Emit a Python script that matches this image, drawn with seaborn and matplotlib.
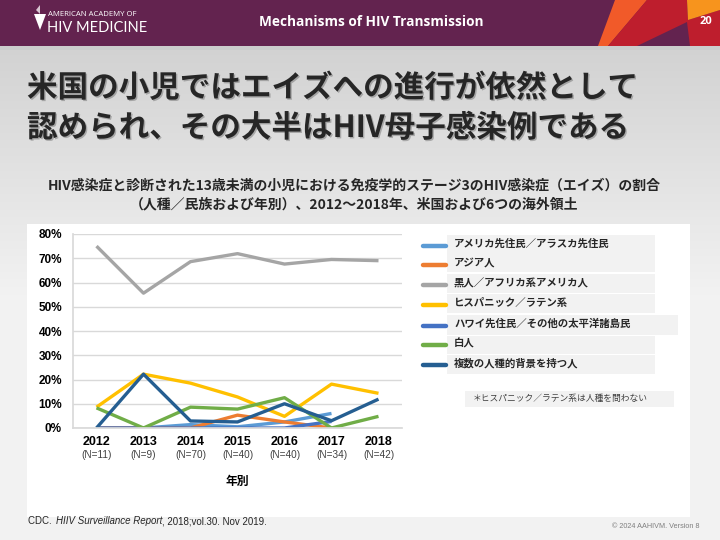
import numpy as np
import pandas as pd
import matplotlib
matplotlib.use("Agg")
import matplotlib.pyplot as plt
import seaborn as sns
from matplotlib.patches import Rectangle, Polygon
from matplotlib.lines import Line2D
import matplotlib.transforms as mtransforms
import matplotlib.patheffects as pe

# ---------------- data ----------------
years = ["2012", "2013", "2014", "2015", "2016", "2017", "2018"]
n_counts = [11, 9, 70, 40, 40, 34, 42]
groups = [
    "アメリカ先住民／アラスカ先住民",
    "アジア人",
    "黒人／アフリカ系アメリカ人",
    "ヒスパニック／ラテン系",
    "ハワイ先住民／その他の太平洋諸島民",
    "白人",
    "複数の人種的背景を持つ人",
]
am_indian = [0.0, 0.0, 1.4, 0.5, 2.5, 6.0, np.nan]
asian = [0.0, 0.0, 0.0, 5.3, 2.5, 0.0, np.nan]
black = [75.0, 55.6, 68.6, 71.9, 67.6, 69.5, 69.0]
hispanic = [8.6, 22.2, 18.5, 12.8, 4.8, 18.1, 14.3]
hawaiian = [0.0, 0.0, 0.0, 0.0, 0.0, 2.7, np.nan]
white = [8.3, 0.0, 8.6, 7.8, 12.5, 0.0, 4.8]
multiple = [0.0, 22.2, 2.9, 2.5, 10.0, 3.0, 11.9]
series = [am_indian, asian, black, hispanic, hawaiian, white, multiple]
colors = ["#5b9bd5", "#ed7d31", "#a5a5a5", "#ffc000", "#4472c4", "#70ad47", "#255e91"]
y_ticks = [0, 10, 20, 30, 40, 50, 60, 70, 80]

title_lines = ["米国の小児ではエイズへの進行が依然として", "認められ、その大半はHIV母子感染例である"]
subtitle_lines = [
    "HIV感染症と診断された13歳未満の小児における免疫学的ステージ3のHIV感染症（エイズ）の割合",
    "（人種／民族および年別）、2012～2018年、米国および6つの海外領土",
]
footnote = "＊ヒスパニック／ラテン系は人種を問わない"
xlabel = "年別"

rows = []
for g, vals in zip(groups, series):
    for i, v in enumerate(vals):
        rows.append({"group": g, "pos": i, "value": v})
df = pd.DataFrame(rows).dropna()

# ---------------- figure ----------------
sns.set_theme(style="white")
JP = ["Noto Sans CJK JP", "DejaVu Sans"]
LAT = ["Liberation Sans", "DejaVu Sans"]
plt.rcParams["font.family"] = LAT

W, H = 720, 540
fig = plt.figure(figsize=(7.2, 5.4), dpi=100)


def fx(x):
    return x / W


def fy(y):
    return 1 - y / H


# background gradient
bg = fig.add_axes([0, 0, 1, 1], zorder=-5)
grad = np.linspace(0, 1, 256)
g = np.clip(grad / 0.55, 0, 1)
top_c, bot_c = 0.80, 0.95
col = top_c + (bot_c - top_c) * g
img = np.stack([col, col, col], axis=-1)[:, None, :].repeat(2, axis=1)
bg.imshow(img, aspect="auto", extent=[0, 1, 0, 1], origin="upper")
bg.set_axis_off()

# header
fig.patches.append(Rectangle((0, fy(46)), 1, 46 / H, transform=fig.transFigure,
                             facecolor="#63234f", edgecolor="none", zorder=1))
fig.patches.append(Rectangle((0, fy(50)), 1, 4 / H, transform=fig.transFigure,
                             facecolor="#cccccc", edgecolor="none", zorder=1))


def poly(pts, color):
    fig.patches.append(Polygon([(fx(a), fy(b)) for a, b in pts], closed=True,
                               transform=fig.transFigure, facecolor=color,
                               edgecolor="none", zorder=2))


poly([(615, 0), (647, 0), (608, 46), (598, 46)], "#f15a29")
poly([(647, 0), (687, 0), (688, 20), (720, 10), (720, 46), (608, 46)], "#be1e2d")
poly([(637, 46), (687, 22), (690, 46)], "#63234f")
poly([(687, 0), (720, 0), (720, 10), (688, 20)], "#f7941d")

# logo
poly([(34, 14), (46, 14), (40, 30)], "#ffffff")
poly([(36, 10), (40, 5), (40, 14)], "#d9c6d2")
fig.text(fx(48), fy(15), "AMERICAN ACADEMY OF", color="white", fontsize=5.6,
         family=["Open Sans"], va="center", ha="left", zorder=3)
fig.text(fx(47), fy(28), "HIV MEDICINE", color="white", fontsize=10.5,
         family=["Lato"], va="center", ha="left", zorder=3)
fig.text(fx(371), fy(22), "Mechanisms of HIV Transmission", color="white",
         fontsize=9.8, fontweight="bold", family=["Open Sans"], va="center",
         ha="center", zorder=3)
fig.text(fx(706), fy(22), "20", color="white", fontsize=8, fontweight="bold",
         family=["Open Sans"], va="center", ha="center", zorder=3)

# title
for i, line in enumerate(title_lines):
    fig.text(fx(27), fy(88 + 40 * i), line, fontsize=22, fontweight="bold",
             family=JP, color="#262626", va="center", ha="left", zorder=3,
             path_effects=[pe.withSimplePatchShadow(offset=(1, -1), alpha=0.25)])

# subtitle
for i, line in enumerate(subtitle_lines):
    fig.text(fx(354), fy(186 + 18 * i), line, fontsize=10, fontweight="bold",
             family=JP, color="#262626", va="center", ha="center", zorder=3)

# white panel
fig.patches.append(Rectangle((fx(27), fy(517)), (690 - 27) / W, (517 - 224) / H,
                             transform=fig.transFigure, facecolor="white",
                             edgecolor="none", zorder=1))

# chart axes
ax = fig.add_axes([fx(73), fy(428), 329 / W, (428 - 234) / H], zorder=5)
ax.patch.set_alpha(0)
sns.lineplot(data=df, x="pos", y="value", hue="group", hue_order=groups,
             palette=colors, linewidth=2.4, sort=False, legend=False, ax=ax,
             solid_capstyle="butt")
ax.set_xlim(-0.5, 6.5)
ax.set_ylim(0, 80)
ax.set_yticks(y_ticks)
ax.set_yticklabels([f"{v}%" for v in y_ticks], fontsize=8.5, fontweight="bold",
                   color="#000000")
ax.set_xticks(range(len(years)))
ax.set_xticklabels(years, fontsize=9, fontweight="bold", color="#000000")
ax.tick_params(axis="both", length=0)
ax.tick_params(axis="y", pad=8)
ax.tick_params(axis="x", pad=6)
ax.yaxis.grid(True, color="#d9d9d9", linewidth=1)
ax.set_axisbelow(True)
for s in ["top", "right"]:
    ax.spines[s].set_visible(False)
ax.spines["left"].set_color("#d9d9d9")
ax.spines["bottom"].set_color("#d9d9d9")
ax.set_xlabel("")
ax.set_ylabel("")
trans = mtransforms.blended_transform_factory(ax.transData, ax.transAxes)
for i, n in enumerate(n_counts):
    ax.text(i, -0.14, f"(N={n})", transform=trans, fontsize=7.2, color="#404040",
            ha="center", va="center")
fig.text(fx(237), fy(481), xlabel, fontsize=8.5, fontweight="bold", family=JP,
         color="#000000", ha="center", va="center", zorder=3)

# legend boxes
boxes = [(235, 272, 655), (274, 293, 655), (294, 313, 655), (315, 335, 678),
         (336, 354, 655), (355, 374, 655)]
for y0, y1, xr in boxes:
    fig.patches.append(Rectangle((fx(447), fy(y1)), (xr - 447) / W, (y1 - y0) / H,
                                 transform=fig.transFigure, facecolor="#f2f2f2",
                                 edgecolor="none", zorder=2))
text_y = [244, 263, 283, 303, 324, 343, 363]
for i, (gname, c) in enumerate(zip(groups, colors)):
    yy = text_y[i] + 2
    fig.add_artist(Line2D([fx(423), fx(446)], [fy(yy), fy(yy)], color=c,
                          linewidth=3.2, transform=fig.transFigure, zorder=3))
    fig.text(fx(454), fy(text_y[i]), gname, fontsize=7.5, fontweight="bold",
             family=JP, color="#262626", ha="left", va="center", zorder=4)

# footnote box
fig.patches.append(Rectangle((fx(465), fy(407)), (674 - 465) / W, 16 / H,
                             transform=fig.transFigure, facecolor="#f2f2f2",
                             edgecolor="none", zorder=2))
fig.text(fx(473), fy(399), footnote, fontsize=6.3, family=JP, color="#404040",
         ha="left", va="center", zorder=4)

# footer (pieces placed one after another)
renderer = fig.canvas.get_renderer()
xcur = 28
for piece, sty, adv in [("CDC. ", "normal", 2), ("HIIV Surveillance Report", "italic", -1),
                        (", 2018;vol.30. Nov 2019.", "normal", 0)]:
    t = fig.text(fx(xcur), fy(521), piece, fontsize=7, style=sty,
                 color="#262626", ha="left", va="center", zorder=4)
    bb = t.get_window_extent(renderer=renderer)
    xcur += bb.width + adv
fig.text(fx(700), fy(527), "© 2024 AAHIVM. Version 8", fontsize=5.2,
         color="#7f7f7f", ha="right", va="center", zorder=4)

fig.savefig("out.png", dpi=100)
